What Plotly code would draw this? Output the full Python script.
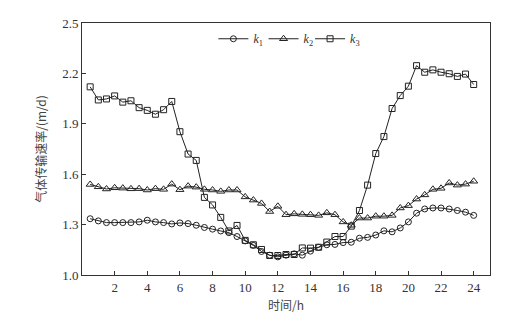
import plotly.graph_objects as go

hours = [0.5 * i for i in range(1, 49)]

k1 = [1.335, 1.322, 1.312, 1.312, 1.312, 1.312, 1.316, 1.326, 1.316, 1.312,
      1.304, 1.310, 1.306, 1.296, 1.283, 1.273, 1.262, 1.252, 1.229, 1.203,
      1.176, 1.140, 1.118, 1.108, 1.118, 1.126, 1.118, 1.142, 1.165, 1.180,
      1.182, 1.193, 1.195, 1.219, 1.224, 1.238, 1.263, 1.257, 1.280, 1.316,
      1.368, 1.393, 1.399, 1.399, 1.393, 1.384, 1.374, 1.355]

k2 = [1.539, 1.525, 1.512, 1.519, 1.517, 1.513, 1.514, 1.506, 1.514, 1.510,
      1.541, 1.508, 1.529, 1.523, 1.510, 1.506, 1.498, 1.506, 1.506, 1.465,
      1.446, 1.426, 1.378, 1.409, 1.359, 1.364, 1.361, 1.359, 1.355, 1.370,
      1.359, 1.316, 1.296, 1.339, 1.339, 1.350, 1.350, 1.355, 1.399, 1.413,
      1.452, 1.477, 1.510, 1.516, 1.548, 1.535, 1.541, 1.558]

k3 = [2.120, 2.042, 2.048, 2.066, 2.029, 2.037, 1.996, 1.980, 1.957, 1.984,
      2.033, 1.853, 1.720, 1.682, 1.462, 1.417, 1.343, 1.262, 1.295, 1.206,
      1.180, 1.152, 1.116, 1.116, 1.122, 1.122, 1.161, 1.160, 1.165, 1.196,
      1.229, 1.229, 1.291, 1.384, 1.535, 1.723, 1.824, 1.991, 2.068, 2.124,
      2.246, 2.207, 2.221, 2.207, 2.198, 2.182, 2.196, 2.134]

series = [
    ("<i>k</i><sub>1</sub>", k1, "circle-open", 6, "legend", 0.322),
    ("<i>k</i><sub>2</sub>", k2, "triangle-up-open", 7, "legend2", 0.445),
    ("<i>k</i><sub>3</sub>", k3, "square-open", 6, "legend3", 0.559),
]

x_ticks = list(range(2, 25, 2))
y_ticks = [1.0, 1.3, 1.6, 1.9, 2.2, 2.5]
y_ticktext = ["1.0", "1.3", "1.6", "1.9", "2.2", "2.5"]

serif = "Liberation Serif, Times New Roman, serif"
cjk = "Noto Sans CJK SC"

fig = go.Figure()
legends = {}
for name, vals, sym, sz, lg, lx in series:
    fig.add_trace(go.Scatter(
        x=hours, y=vals, mode="lines+markers", name=name, legend=lg,
        line=dict(color="#222222", width=1),
        marker=dict(symbol=sym, size=sz, color="#222222", line=dict(width=1, color="#222222")),
    ))
    legends[lg] = dict(
        orientation="h", x=lx, y=0.995, xanchor="left", yanchor="top",
        bgcolor="rgba(0,0,0,0)", font=dict(family=serif, size=12, color="#333333"),
        itemwidth=30,
    )

fig.update_layout(
    width=528, height=323,
    margin=dict(l=82, r=38, t=23, b=42),
    paper_bgcolor="white", plot_bgcolor="white",
    font=dict(family=serif, size=13, color="#333333"),
    showlegend=True,
    xaxis=dict(
        range=[0, 25], tickvals=x_ticks, ticks="inside", ticklen=4, tickwidth=1,
        tickcolor="#333333", showline=True, linecolor="#333333", linewidth=1,
        mirror=True, showgrid=False, zeroline=False,
        title=dict(text="时间/h", font=dict(family=cjk, size=12, color="#444444"), standoff=8),
    ),
    yaxis=dict(
        range=[1.0, 2.5], tickvals=y_ticks, ticktext=y_ticktext, ticks="inside",
        ticklen=4, tickwidth=1, tickcolor="#333333", showline=True,
        linecolor="#333333", linewidth=1, mirror=True, showgrid=False, zeroline=False,
        title=dict(text="气体传输速率/(m/d)", font=dict(family=cjk, size=12, color="#444444"), standoff=12),
    ),
)
fig.update_layout(**legends)

fig.write_html("out.html")
